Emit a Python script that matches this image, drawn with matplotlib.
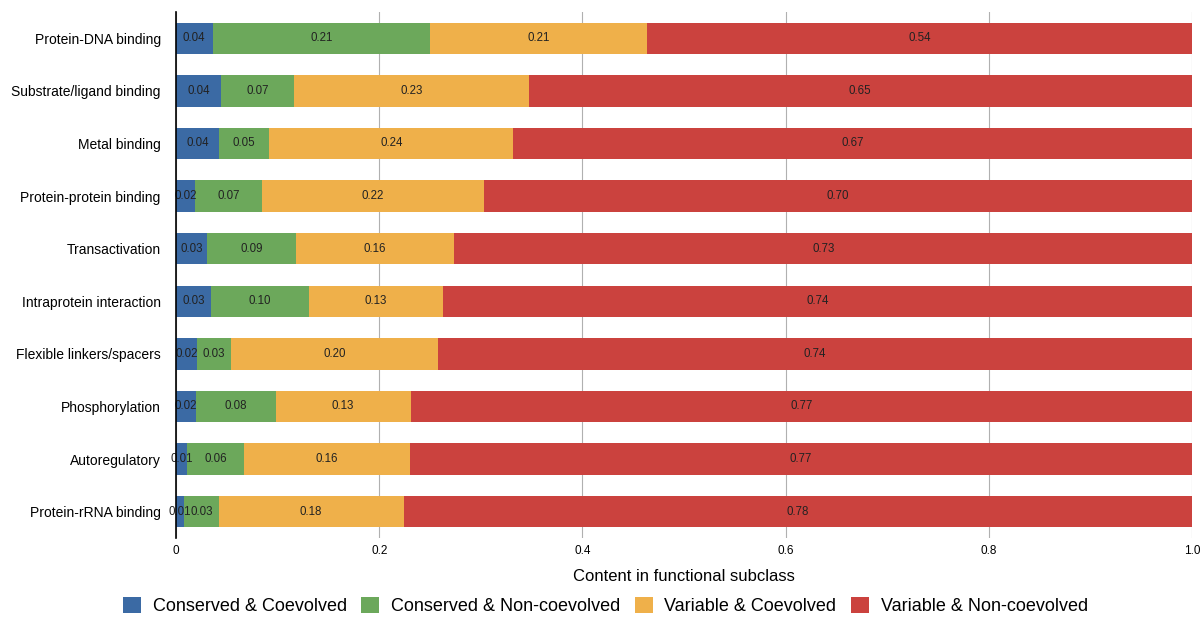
import numpy as np
import matplotlib
matplotlib.use('Agg')
import matplotlib.pyplot as plt
from matplotlib.patches import Patch

plt.rcParams['font.family'] = ['Liberation Sans', 'DejaVu Sans']

categories = ['Protein-DNA binding', 'Substrate/ligand binding', 'Metal binding',
              'Protein-protein binding', 'Transactivation', 'Intraprotein interaction',
              'Flexible linkers/spacers', 'Phosphorylation', 'Autoregulatory',
              'Protein-rRNA binding']

cons_coev = [0.036, 0.044, 0.042, 0.019, 0.031, 0.034, 0.021, 0.020, 0.011, 0.008]
cons_noncoev = [0.214, 0.072, 0.050, 0.066, 0.087, 0.097, 0.033, 0.078, 0.056, 0.034]
var_coev = [0.214, 0.231, 0.240, 0.218, 0.156, 0.132, 0.204, 0.133, 0.163, 0.182]
var_noncoev = [0.536, 0.653, 0.668, 0.697, 0.726, 0.737, 0.742, 0.769, 0.770, 0.776]

series_names = ['Conserved & Coevolved', 'Conserved & Non-coevolved',
                'Variable & Coevolved', 'Variable & Non-coevolved']
colors = ['#3b6aa4', '#6ca85b', '#efb04a', '#cb423e']

fig = plt.figure(figsize=(12.01, 6.18), dpi=100)
ax = fig.add_axes([176/1201, 1-538/618, 1016/1201, 526/618])

y = np.arange(len(categories))
left = np.zeros(len(categories))
for vals, col in zip([cons_coev, cons_noncoev, var_coev, var_noncoev], colors):
    vals = np.array(vals)
    ax.barh(y, vals, left=left, height=0.6, color=col, edgecolor='none', zorder=2)
    for yi, l, v in zip(y, left, vals):
        ax.text(l + v/2, yi, '%.2f' % v, ha='center', va='center',
                fontsize=8.3, color='#222222', zorder=3)
    left += vals

ax.set_xlim(0, 1.0)
ax.set_ylim(len(categories) - 0.5, -0.5)
ax.set_yticks(y)
ax.set_yticklabels(categories, fontsize=10)
ax.set_xticks([0, 0.2, 0.4, 0.6, 0.8, 1.0])
ax.set_xticklabels(['0', '0.2', '0.4', '0.6', '0.8', '1.0'], fontsize=8.5)
ax.tick_params(axis='y', length=0, pad=11)
ax.tick_params(axis='x', length=0, pad=5)
ax.grid(axis='x', color='#b0b0b0', linewidth=0.8, zorder=0)
for s in ['top', 'right', 'bottom']:
    ax.spines[s].set_visible(False)
ax.spines['left'].set_color('black')
ax.spines['left'].set_linewidth(1.2)
ax.spines['left'].set_zorder(4)
ax.set_xlabel('Content in functional subclass', fontsize=12, labelpad=9)

handles = [Patch(facecolor=c, edgecolor='none') for c in colors]
fig.legend(handles, series_names, loc='lower center', ncol=4, frameon=False,
           fontsize=13, handlelength=1.0, handleheight=1.0, columnspacing=0.8,
           handletextpad=0.65, bbox_to_anchor=(0.504, -0.022))

fig.savefig('out.png', dpi=100)
